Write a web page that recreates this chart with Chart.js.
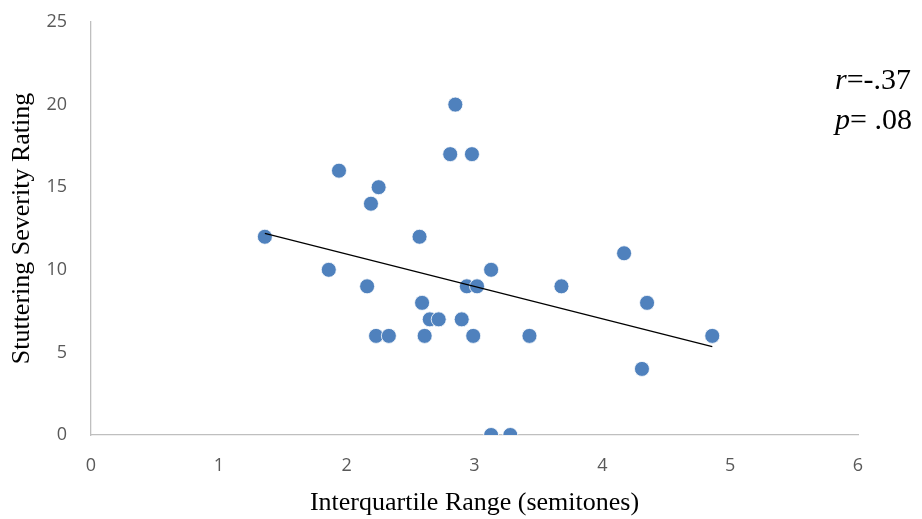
<!DOCTYPE html>
<html><head><meta charset="utf-8">
<script src="https://cdn.jsdelivr.net/npm/chart.js@4/dist/chart.umd.min.js"></script>
<style>html,body{margin:0;padding:0;background:#fff;}#wrap{width:922px;height:519px;position:relative;}</style>
</head><body><div id="wrap"><canvas id="c" width="922" height="519"></canvas></div>
<script>
const iqrValues = [1.36,1.86,1.94,2.16,2.19,2.25,2.23,2.33,2.57,2.59,2.61,2.65,2.72,2.81,2.85,2.90,2.94,2.98,2.99,3.02,3.13,3.13,3.28,3.43,3.68,4.17,4.31,4.35,4.86];
const severityValues = [12,10,16,9,14,15,6,6,12,8,6,7,7,17,20,7,9,17,6,9,10,0,0,6,9,11,4,8,6];
const trendX = [1.36, 4.86];
const trendY = [12.2, 5.35];
const xTicks = [0,1,2,3,4,5,6];
const yTicks = [0,5,10,15,20,25];
const statLines = [["r", "=-.37"], ["p", "= .08"]];

const points = iqrValues.map((x,i)=>({x, y: severityValues[i]}));
const trend = trendX.map((x,i)=>({x, y: trendY[i]}));

const statsPlugin = {
  id: 'stats',
  afterDraw(chart){
    const ctx = chart.ctx;
    ctx.save();
    ctx.fillStyle = '#000';
    ctx.textBaseline = 'middle';
    const ys = [81, 121];
    statLines.forEach((l,i)=>{
      ctx.font = 'italic 30px "Liberation Serif"';
      const w1 = ctx.measureText(l[0]).width;
      const x0 = 835;
      ctx.fillText(l[0], x0, ys[i]);
      ctx.font = '30px "Liberation Serif"';
      ctx.fillText(l[1], x0 + w1, ys[i]);
    });
    ctx.restore();
  }
};

new Chart(document.getElementById('c'), {
  type: 'scatter',
  data: {
    datasets: [
      { data: points, backgroundColor: '#4F81BD', borderColor: '#ffffff', borderWidth: 0.8, pointRadius: 7.5, pointHoverRadius: 7.5, order: 1 },
      { type: 'line', data: trend, borderColor: '#000', borderWidth: 1.2, pointRadius: 0, fill: false, order: 0 }
    ]
  },
  options: {
    responsive: false,
    animation: false,
    events: [],
    layout: { padding: { top: 22, right: 64, left: 0, bottom: 0 } },
    plugins: { legend: { display: false }, tooltip: { enabled: false } },
    scales: {
      x: {
        type: 'linear', min: 0, max: 6,
        afterBuildTicks(s){ s.ticks = xTicks.map(v=>({value:v})); },
        afterFit(s){ s.height = 84; s.paddingLeft = 0; s.paddingRight = 0; s.paddingTop = 0; s.paddingBottom = 0; },
        grid: { display: false, drawTicks: false },
        border: { display: true, color: '#BFBFBF', width: 1.3 },
        ticks: { color: '#595959', font: { family: '"Open Sans"', size: 18 }, padding: 20 },
        title: { display: true, text: 'Interquartile Range (semitones)', color: '#000', font: { family: '"Liberation Serif"', size: 26 }, padding: { top: 0, bottom: 0 } }
      },
      y: {
        type: 'linear', min: 0, max: 25,
        afterBuildTicks(s){ s.ticks = yTicks.map(v=>({value:v})); },
        afterFit(s){ s.width = 91; s.paddingTop = 0; s.paddingBottom = 0; s.paddingLeft = 0; s.paddingRight = 0; },
        grid: { display: false, drawTicks: false },
        border: { display: true, color: '#BFBFBF', width: 1.3 },
        ticks: { color: '#595959', font: { family: '"Open Sans"', size: 18 }, padding: 24 },
        title: { display: true, text: 'Stuttering Severity Rating', color: '#000', font: { family: '"Liberation Serif"', size: 26 }, padding: { top: 7, bottom: 0 } }
      }
    }
  },
  plugins: [statsPlugin]
});
</script></body></html>
